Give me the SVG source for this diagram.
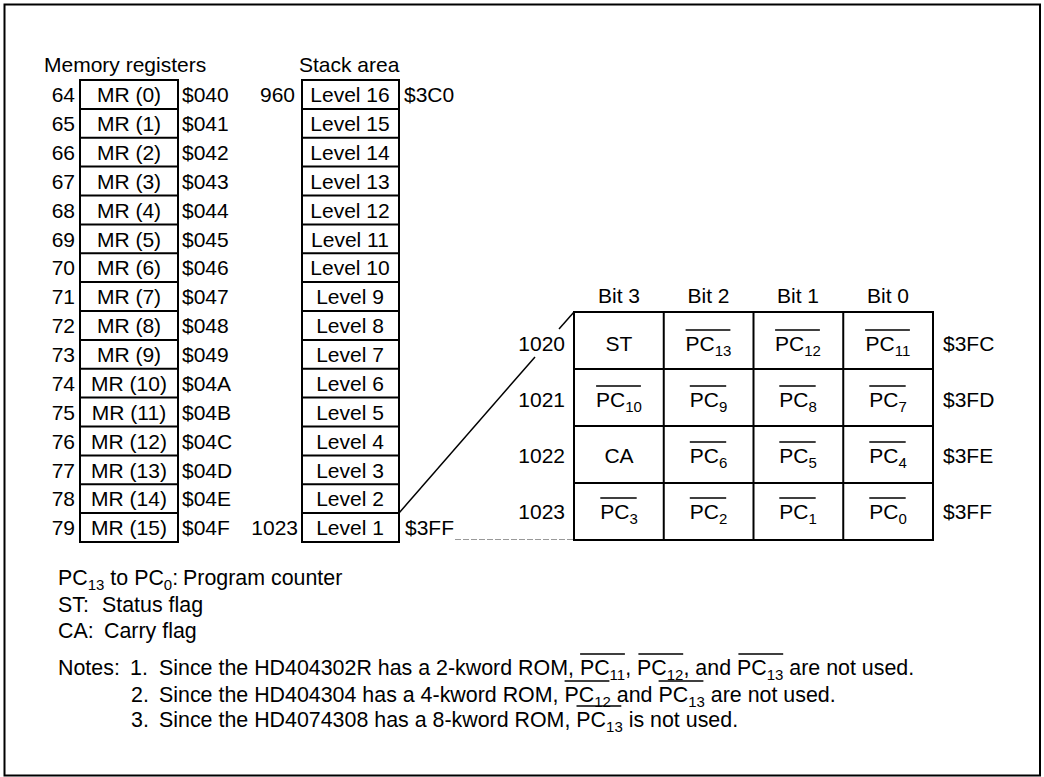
<svg xmlns="http://www.w3.org/2000/svg" width="1044" height="777" viewBox="0 0 1044 777">
<style>
.t{font-family:"Liberation Sans",Arial,Helvetica,sans-serif;font-size:21px;fill:#000}
.n{font-size:21.4px}
.m{text-anchor:middle}
.e{text-anchor:end}
.s{font-size:15px}
.box{fill:none;stroke:#000;stroke-width:2}
.ln{stroke:#000;stroke-width:2}
.ol{stroke:#000;stroke-width:1.5}
.dg{stroke:#000;stroke-width:1.5;fill:none}
</style>
<rect x="0" y="0" width="1044" height="777" fill="#fff"/>
<rect id="frame" x="4.5" y="4.5" width="1035.5" height="771" class="box"/>

<g id="memory-registers">
<text class="t" x="44" y="72">Memory registers</text>
<rect class="box" x="80" y="80" width="98" height="462"/>
<path class="ln" d="M80 108.9H178M80 137.75H178M80 166.6H178M80 195.5H178M80 224.4H178M80 253.25H178M80 282.1H178M80 311H178M80 339.9H178M80 368.75H178M80 397.6H178M80 426.5H178M80 455.4H178M80 484.25H178M80 513.1H178"/>
<g class="t e">
<text x="75" y="102">64</text><text x="75" y="131">65</text><text x="75" y="160">66</text><text x="75" y="189">67</text>
<text x="75" y="217.5">68</text><text x="75" y="246.5">69</text><text x="75" y="275">70</text><text x="75" y="304">71</text>
<text x="75" y="333">72</text><text x="75" y="362">73</text><text x="75" y="391">74</text><text x="75" y="419.5">75</text>
<text x="75" y="448.5">76</text><text x="75" y="477.5">77</text><text x="75" y="506">78</text><text x="75" y="535">79</text>
</g>
<g class="t m">
<text x="129" y="102">MR (0)</text><text x="129" y="131">MR (1)</text><text x="129" y="160">MR (2)</text><text x="129" y="189">MR (3)</text>
<text x="129" y="217.5">MR (4)</text><text x="129" y="246.5">MR (5)</text><text x="129" y="275">MR (6)</text><text x="129" y="304">MR (7)</text>
<text x="129" y="333">MR (8)</text><text x="129" y="362">MR (9)</text><text x="129" y="391">MR (10)</text><text x="129" y="419.5">MR (11)</text>
<text x="129" y="448.5">MR (12)</text><text x="129" y="477.5">MR (13)</text><text x="129" y="506">MR (14)</text><text x="129" y="535">MR (15)</text>
</g>
<g class="t">
<text x="182" y="102">$040</text><text x="182" y="131">$041</text><text x="182" y="160">$042</text><text x="182" y="189">$043</text>
<text x="182" y="217.5">$044</text><text x="182" y="246.5">$045</text><text x="182" y="275">$046</text><text x="182" y="304">$047</text>
<text x="182" y="333">$048</text><text x="182" y="362">$049</text><text x="182" y="391">$04A</text><text x="182" y="419.5">$04B</text>
<text x="182" y="448.5">$04C</text><text x="182" y="477.5">$04D</text><text x="182" y="506">$04E</text><text x="182" y="535">$04F</text>
</g>
</g>

<g id="stack-area">
<text class="t" x="299" y="72">Stack area</text>
<rect class="box" x="302" y="80" width="97" height="462"/>
<path class="ln" d="M302 108.9H399M302 137.75H399M302 166.6H399M302 195.5H399M302 224.4H399M302 253.25H399M302 282.1H399M302 311H399M302 339.9H399M302 368.75H399M302 397.6H399M302 426.5H399M302 455.4H399M302 484.25H399M302 513.1H399"/>
<text class="t e" x="295" y="102">960</text>
<text class="t e" x="298" y="535">1023</text>
<text class="t" x="404" y="102">$3C0</text>
<text class="t" x="405" y="535">$3FF</text>
<g class="t m">
<text x="350" y="102">Level 16</text><text x="350" y="131">Level 15</text><text x="350" y="160">Level 14</text><text x="350" y="189">Level 13</text>
<text x="350" y="217.5">Level 12</text><text x="350" y="246.5">Level 11</text><text x="350" y="275">Level 10</text><text x="350" y="304">Level 9</text>
<text x="350" y="333">Level 8</text><text x="350" y="362">Level 7</text><text x="350" y="391">Level 6</text><text x="350" y="419.5">Level 5</text>
<text x="350" y="448.5">Level 4</text><text x="350" y="477.5">Level 3</text><text x="350" y="506">Level 2</text><text x="350" y="535">Level 1</text>
</g>
</g>

<g id="connectors">
<line class="dg" x1="574" y1="312" x2="559" y2="329"/>
<line class="dg" x1="535" y1="357" x2="399" y2="513"/>
<line x1="455" y1="539.5" x2="574" y2="539.5" stroke="#999" stroke-width="1" stroke-dasharray="6 2"/>
</g>

<g id="bit-table">
<g class="t m">
<text x="619" y="303">Bit 3</text><text x="708.5" y="303">Bit 2</text><text x="798" y="303">Bit 1</text><text x="888" y="303">Bit 0</text>
</g>
<rect class="box" x="574" y="312" width="359" height="228"/>
<path class="ln" d="M663.75 312V540M753.5 312V540M843.25 312V540M574 369H933M574 426H933M574 483H933"/>
<g class="t e">
<text x="565" y="351">1020</text><text x="565" y="407">1021</text><text x="565" y="463">1022</text><text x="565" y="519">1023</text>
</g>
<g class="t">
<text x="943" y="351">$3FC</text><text x="943" y="407">$3FD</text><text x="943" y="463">$3FE</text><text x="943" y="519">$3FF</text>
</g>
<g class="t m">
<text x="619" y="351">ST</text>
<text x="708.5" y="351">PC<tspan class="s" dy="5">13</tspan></text>
<text x="798" y="351">PC<tspan class="s" dy="5">12</tspan></text>
<text x="888" y="351">PC<tspan class="s" dy="5">11</tspan></text>
<text x="619" y="407">PC<tspan class="s" dy="5">10</tspan></text>
<text x="708.5" y="407">PC<tspan class="s" dy="5">9</tspan></text>
<text x="798" y="407">PC<tspan class="s" dy="5">8</tspan></text>
<text x="888" y="407">PC<tspan class="s" dy="5">7</tspan></text>
<text x="619" y="463">CA</text>
<text x="708.5" y="463">PC<tspan class="s" dy="5">6</tspan></text>
<text x="798" y="463">PC<tspan class="s" dy="5">5</tspan></text>
<text x="888" y="463">PC<tspan class="s" dy="5">4</tspan></text>
<text x="619" y="519">PC<tspan class="s" dy="5">3</tspan></text>
<text x="708.5" y="519">PC<tspan class="s" dy="5">2</tspan></text>
<text x="798" y="519">PC<tspan class="s" dy="5">1</tspan></text>
<text x="888" y="519">PC<tspan class="s" dy="5">0</tspan></text>
</g>
<path class="ol" d="M685.6 330H730.4M775.1 330H819.9M865.1 330H909.9M596.1 386H640.9M689.8 386H726.2M779.3 386H815.7M869.3 386H905.7M689.8 442H726.2M779.3 442H815.7M869.3 442H905.7M600.3 498H636.7M689.8 498H726.2M779.3 498H815.7M869.3 498H905.7"/>
</g>

<g id="legend">
<text class="t n" x="58" y="585">PC<tspan class="s" dy="5">13</tspan><tspan dy="-5"> to PC</tspan><tspan class="s" dy="5">0</tspan><tspan dy="-5">:</tspan></text>
<text class="t n" x="183" y="585">Program counter</text>
<text class="t n" x="58" y="612">ST:</text>
<text class="t n" x="102" y="612">Status flag</text>
<text class="t n" x="58" y="638">CA:</text>
<text class="t n" x="104" y="638">Carry flag</text>
</g>

<g id="notes">
<text class="t n" x="58" y="675">Notes:</text>
<text class="t n" x="130" y="675">1.</text>
<text class="t n" x="159" y="675">Since the HD404302R has a 2-kword ROM, PC<tspan class="s" dy="5">11</tspan><tspan dy="-5">, PC</tspan><tspan class="s" dy="5">12</tspan><tspan dy="-5">, and PC</tspan><tspan class="s" dy="5">13</tspan><tspan dy="-5"> are not used.</tspan></text>
<text class="t n" x="131" y="702">2.</text>
<text class="t n" x="159" y="702">Since the HD404304 has a 4-kword ROM, PC<tspan class="s" dy="5">12</tspan><tspan dy="-5"> and PC</tspan><tspan class="s" dy="5">13</tspan><tspan dy="-5"> are not used.</tspan></text>
<text class="t n" x="131" y="727">3.</text>
<text class="t n" x="159" y="727">Since the HD4074308 has a 8-kword ROM, PC<tspan class="s" dy="5">13</tspan><tspan dy="-5"> is not used.</tspan></text>
<path class="ol" d="M580.1 654H624.9M638.4 654H683.2M738.4 654H783.2M564.6 681H609.4M658.6 681H703.4M576.5 706H621.3"/>
</g>
</svg>
